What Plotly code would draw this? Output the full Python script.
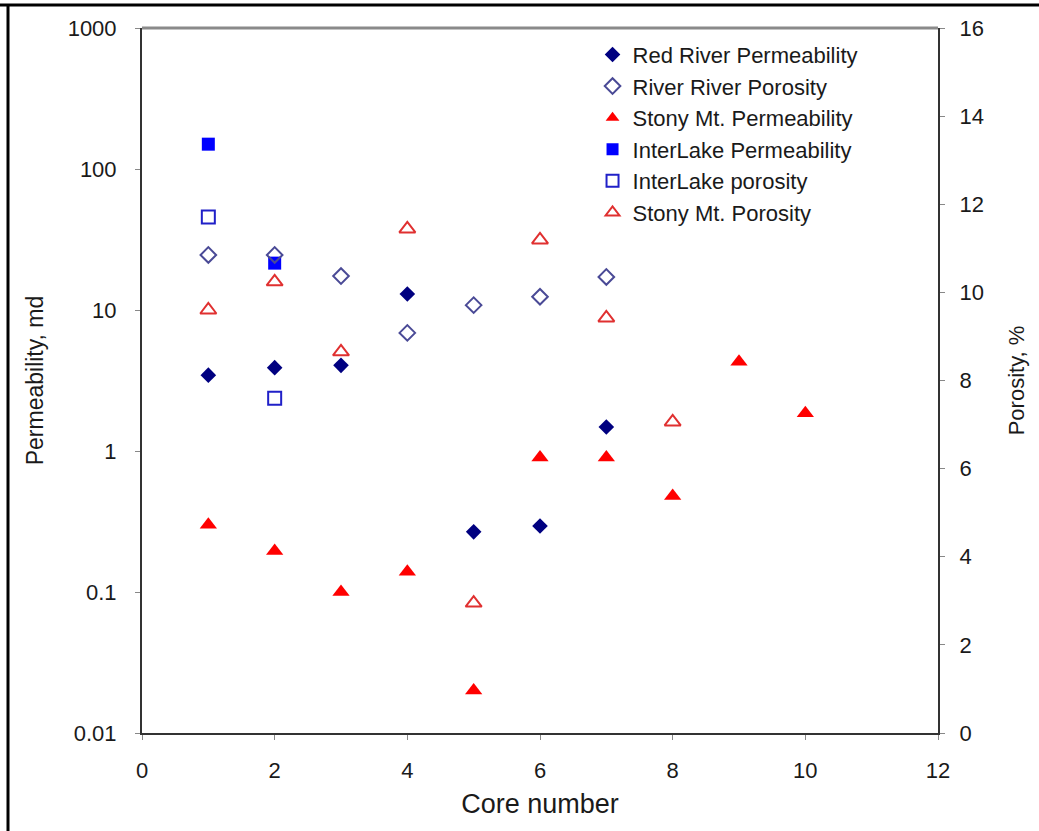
import plotly.graph_objects as go

core_rr = [1, 2, 3, 4, 5, 6, 7]
rr_perm = [3.45, 3.9, 4.05, 13.0, 0.267, 0.294, 1.48]
rr_por = [10.85, 10.85, 10.37, 9.08, 9.71, 9.9, 10.35]

core_sm_perm = [1, 2, 3, 4, 5, 6, 7, 8, 9, 10]
sm_perm = [0.30, 0.195, 0.10, 0.139, 0.02, 0.9, 0.9, 0.48, 4.3, 1.85]

core_il = [1, 2]
il_perm = [150, 21.5]
il_por = [11.71, 7.6]

core_sm_por = [1, 2, 3, 4, 5, 6, 7, 8]
sm_por = [9.6, 10.24, 8.65, 11.44, 2.95, 11.19, 9.42, 7.06]

left_ticks = [0.01, 0.1, 1, 10, 100, 1000]
left_tick_text = ["0.01", "0.1", "1", "10", "100", "1000"]

FONT = "Liberation Sans, Arial, sans-serif"
TXT = "#1a1a1a"

fig = go.Figure()
fig.add_trace(go.Scatter(x=core_rr, y=rr_perm, mode="markers", name="Red River Permeability", legendgroup="a",
                         marker=dict(symbol="diamond", size=12, color="#000080")))
fig.add_trace(go.Scatter(x=core_rr, y=rr_por, mode="markers", name="River River Porosity", yaxis="y2", legendgroup="b",
                         marker=dict(symbol="diamond-open", size=12, color="#4a4a96", line=dict(width=2, color="#4a4a96"))))
fig.add_trace(go.Scatter(x=core_sm_perm, y=sm_perm, mode="markers", name="Stony Mt. Permeability", legendgroup="c",
                         marker=dict(symbol="triangle-up", size=15, color="#ff0000")))
fig.add_trace(go.Scatter(x=core_il, y=il_perm, mode="markers", name="InterLake Permeability", legendgroup="d",
                         marker=dict(symbol="square", size=13, color="#0000ff")))
fig.add_trace(go.Scatter(x=core_il, y=il_por, mode="markers", name="InterLake porosity", yaxis="y2", legendgroup="e",
                         marker=dict(symbol="square-open", size=13, color="#2020c8", line=dict(width=2, color="#2020c8"))))
fig.add_trace(go.Scatter(x=core_sm_por, y=sm_por, mode="markers", name="Stony Mt. Porosity", yaxis="y2", legendgroup="f",
                         marker=dict(symbol="triangle-up-open", size=14, color="#e03030", line=dict(width=2, color="#e03030"))))

fig.update_layout(
    width=1039, height=831,
    margin=dict(l=142, r=101, t=28, b=98),
    paper_bgcolor="white", plot_bgcolor="white",
    font=dict(family=FONT, size=21, color=TXT),
    showlegend=True,
    legend=dict(x=0.566, y=0.992, xanchor="left", yanchor="top", bgcolor="rgba(0,0,0,0)",
                font=dict(family=FONT, size=22, color=TXT), itemsizing="constant",
                traceorder="grouped", tracegroupgap=0, itemwidth=30),
    xaxis=dict(range=[0, 12], tickvals=[0, 2, 4, 6, 8, 10, 12], showgrid=False, zeroline=False,
               showline=True, linecolor="#333333", linewidth=2, ticks="outside", ticklen=5,
               tickcolor="#888888", tickfont=dict(size=22), ticklabelstandoff=12,
               title=dict(text="Core number", font=dict(size=27), standoff=12)),
    yaxis=dict(type="log", range=[-2, 3], tickvals=left_ticks, ticktext=left_tick_text,
               showgrid=False, zeroline=False, showline=True, linecolor="#333333", linewidth=2,
               ticks="outside", ticklen=5, tickcolor="#888888", tickfont=dict(size=22),
               ticklabelstandoff=14,
               title=dict(text="Permeability, md", font=dict(size=23), standoff=18)),
    yaxis2=dict(overlaying="y", side="right", range=[0, 16], tickvals=list(range(0, 17, 2)),
                showgrid=False, zeroline=False, showline=True, linecolor="#333333", linewidth=2,
                ticks="outside", ticklen=5, tickcolor="#888888", tickfont=dict(size=22),
                ticklabelstandoff=10,
                title=dict(text="Porosity, %", font=dict(size=22), standoff=26)),
    shapes=[
        dict(type="line", xref="paper", yref="paper", x0=0, x1=1, y0=1, y1=1,
             line=dict(color="#8a8a8a", width=3)),
        dict(type="line", xref="paper", yref="paper", x0=-142/796, x1=(1039-142)/796 + 0.01,
             y0=1 + 23/705, y1=1 + 23/705, line=dict(color="black", width=3)),
        dict(type="line", xref="paper", yref="paper", x0=-134/796, x1=-134/796,
             y0=1 + 24/705, y1=-100/705, line=dict(color="black", width=3)),
    ],
)

fig.write_html("out.html")
